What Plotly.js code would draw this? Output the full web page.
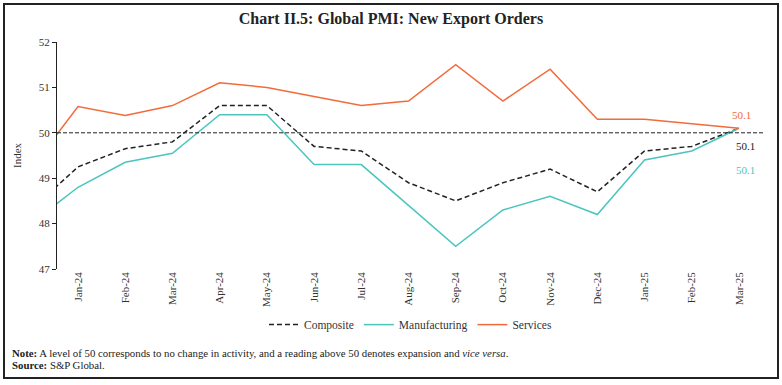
<!DOCTYPE html>
<html>
<head>
<meta charset="utf-8">
<script src="https://cdn.plot.ly/plotly-3.0.1.min.js"></script>
<style>
  html, body { margin: 0; padding: 0; background: #fff; }
  #chart { width: 782px; height: 385px; }
  #frame { position: absolute; left: 3px; top: 3px; width: 772px; height: 372px; border: 2px solid #222; pointer-events: none; }
</style>
</head>
<body>
<div id="chart"></div>
<div id="frame"></div>
<script>
// Months (first one only partly visible at the left edge of the chart)
const months = ["Dec-23","Jan-24","Feb-24","Mar-24","Apr-24","May-24","Jun-24","Jul-24","Aug-24","Sep-24","Oct-24","Nov-24","Dec-24","Jan-25","Feb-25","Mar-25"];
const composite     = [48.3, 49.25, 49.65, 49.8, 50.6, 50.6, 49.7, 49.6, 48.9, 48.5, 48.9, 49.2, 48.7, 49.6, 49.7, 50.1];
const manufacturing = [48.0, 48.8, 49.35, 49.55, 50.4, 50.4, 49.3, 49.3, 48.4, 47.5, 48.3, 48.6, 48.2, 49.4, 49.6, 50.1];
const services      = [49.2, 50.58, 50.38, 50.6, 51.1, 51.0, 50.8, 50.6, 50.7, 51.5, 50.7, 51.4, 50.3, 50.3, 50.2, 50.1];
const tickMonths = months.slice(1);
const yTicks = [47, 48, 49, 50, 51, 52];

const serif = "Liberation Serif, Times New Roman, serif";
const cComp = "#222222", cMan = "#4CC5BF", cSer = "#F26B3A";
const idx = months.map((m, i) => i);
const last = months.length - 1;

const traces = [
  { x: idx, y: composite, name: "Composite", type: "scatter", mode: "lines",
    line: { color: cComp, width: 1.5, dash: "5px,3px" } },
  { x: idx, y: manufacturing, name: "Manufacturing", type: "scatter", mode: "lines",
    line: { color: cMan, width: 1.5 } },
  { x: idx, y: services, name: "Services", type: "scatter", mode: "lines",
    line: { color: cSer, width: 1.5 } }
];

const layout = {
  width: 782, height: 385,
  margin: { l: 57, r: 18, t: 42, b: 116 },
  paper_bgcolor: "#fff", plot_bgcolor: "#fff",
  font: { family: serif, size: 11, color: "#333" },
  title: { text: "<b>Chart II.5: Global PMI: New Export Orders</b>", x: 0.5, xanchor: "center",
           y: 0.953, yanchor: "middle", font: { family: serif, size: 16, color: "#222" } },
  xaxis: {
    range: [0.555, 15.53], tickmode: "array", tickvals: idx.slice(1), ticktext: tickMonths,
    tickangle: -90, showgrid: false, zeroline: false, showline: false, ticks: "",
    tickfont: { family: serif, size: 11, color: "#333" }, fixedrange: true
  },
  yaxis: {
    range: [47, 52], tickvals: yTicks, showgrid: false, zeroline: false,
    showline: true, linecolor: "#222", linewidth: 1, ticks: "outside", ticklen: 4, tickcolor: "#222",
    tickfont: { family: serif, size: 11, color: "#333" },
    title: { text: "Index", font: { family: serif, size: 11, color: "#333" }, standoff: 14 }
  },
  showlegend: true,
  legend: { orientation: "h", x: 0.5, xanchor: "center", y: -0.245, yanchor: "middle",
            font: { family: serif, size: 11.5, color: "#333" }, itemwidth: 30, tracegroupgap: 0 },
  shapes: [
    { type: "line", xref: "paper", x0: 0, x1: 1, yref: "y", y0: 50, y1: 50,
      line: { color: "#222", width: 1, dash: "4px,2px" } }
  ],
  annotations: [
    { x: last, y: services[last], text: services[last].toFixed(1), showarrow: false,
      xanchor: "left", yanchor: "middle", xshift: -9, yshift: 13, font: { family: serif, size: 11, color: cSer } },
    { x: last, y: composite[last], text: composite[last].toFixed(1), showarrow: false,
      xanchor: "left", yanchor: "middle", xshift: -5, yshift: -18, font: { family: serif, size: 11, color: cComp } },
    { x: last, y: manufacturing[last], text: manufacturing[last].toFixed(1), showarrow: false,
      xanchor: "left", yanchor: "middle", xshift: -5, yshift: -42, font: { family: serif, size: 11, color: cMan } },
    { xref: "paper", yref: "paper", x: -0.066, y: -0.369, xanchor: "left", yanchor: "middle", showarrow: false, align: "left",
      text: "<b>Note:</b> A level of 50 corresponds to no change in activity, and a reading above 50 denotes expansion and <i>vice versa</i>.",
      font: { family: serif, size: 10.8, color: "#222" } },
    { xref: "paper", yref: "paper", x: -0.066, y: -0.421, xanchor: "left", yanchor: "middle", showarrow: false, align: "left",
      text: "<b>Source:</b> S&P Global.",
      font: { family: serif, size: 10.8, color: "#222" } }
  ]
};

Plotly.newPlot("chart", traces, layout, { displayModeBar: false, staticPlot: true });
</script>
</body>
</html>
